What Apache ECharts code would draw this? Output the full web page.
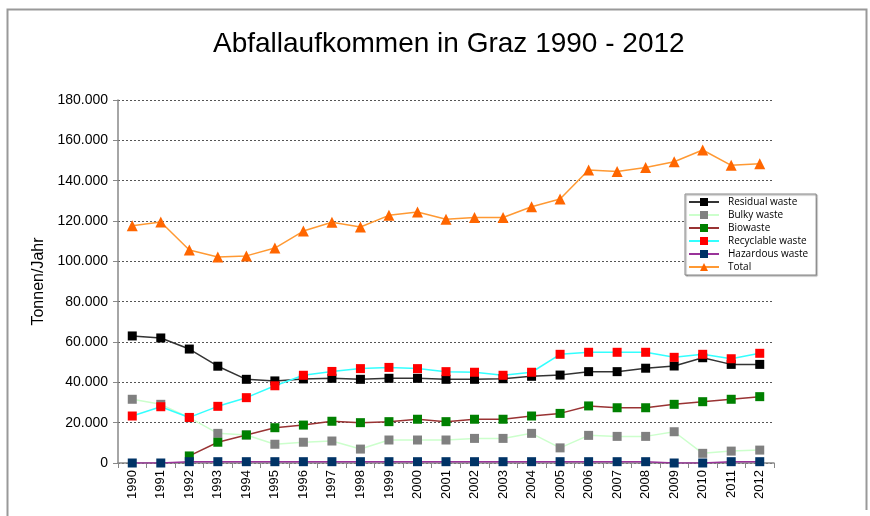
<!DOCTYPE html>
<html>
<head>
<meta charset="utf-8">
<script src="https://cdn.jsdelivr.net/npm/echarts@6/dist/echarts.min.js"></script>
<style>html,body{margin:0;padding:0;background:#fff;}#c{width:870px;height:516px;}</style>
</head>
<body>
<div id="c"></div>
<script>
const years = ['1990','1991','1992','1993','1994','1995','1996','1997','1998','1999','2000','2001','2002','2003','2004','2005','2006','2007','2008','2009','2010','2011','2012'];
const residual = [63000,62000,56500,48000,41500,40700,41700,42000,41500,42000,42000,41500,41500,41800,43000,43600,45300,45300,47000,48100,52200,48900,48900];
const bulky = [31600,29100,22500,14700,13900,9300,10300,10900,6900,11400,11400,11400,12200,12200,14700,7500,13700,13200,13200,15500,4800,5900,6400];
const biowaste = [null,null,3500,10300,13900,17500,18800,20700,20000,20500,21700,20500,21700,21700,23300,24600,28300,27400,27400,29100,30400,31600,32900];
const recyclable = [23300,27900,22600,28100,32400,38300,43500,45400,46800,47400,46800,45300,45000,43500,45000,53900,54900,54900,54900,52400,53900,51700,54400];
const hazardous = [0,0,650,650,650,650,650,650,650,650,650,650,650,650,650,650,650,650,650,0,0,650,650];
const total = [117700,119500,105600,102200,102700,106600,115000,119400,117000,122800,124500,120900,121700,121700,127100,130900,145300,144500,146500,149400,155200,147600,148400];
const yTicks = {min:0, max:180000, interval:20000};

function mk(name, data, lineColor, markColor, symbol, size){
  return {
    name, type:'line', data, symbol, symbolSize:size,
    lineStyle:{color:lineColor, width:1.5},
    itemStyle:{color:markColor, borderColor:markColor, borderWidth:0},
    emphasis:{disabled:true}, animation:false, connectNulls:false
  };
}
const chart = echarts.init(document.getElementById('c'), null, {renderer:'canvas'});
chart.setOption({
  animation:false,
  backgroundColor:'#fff',
  title:{text:'Abfallaufkommen in Graz 1990 - 2012', left:208, top:25,
    textStyle:{fontFamily:'Liberation Sans, Arial, sans-serif', fontSize:28, fontWeight:'normal', color:'#000'}},
  graphic:[
    {type:'polyline', shape:{points:[[7.5,516],[7.5,9.5],[866.5,9.5],[866.5,510]]}, style:{stroke:'#999', lineWidth:2, fill:null}, z:100}
  ],
  legend:{
    orient:'vertical', left:685, top:194, itemWidth:30, itemHeight:10, itemGap:3,
    padding:[3,8,3,3],
    borderColor:'#888', borderWidth:1, backgroundColor:'#fff',
    shadowColor:'rgba(0,0,0,0.35)', shadowOffsetX:1, shadowOffsetY:1, shadowBlur:1,
    textStyle:{fontFamily:'Open Sans, Liberation Sans, sans-serif', fontSize:10, color:'#000', padding:[0,0,0,4]},
    data:['Residual waste','Bulky waste','Biowaste','Recyclable waste','Hazardous waste','Total']
  },
  grid:{left:118, right:96, top:100, bottom:53},
  xAxis:{
    type:'category', data:years, boundaryGap:true,
    axisLine:{lineStyle:{color:'#888', width:1.5}},
    axisTick:{show:true, alignWithLabel:false, length:5, lineStyle:{color:'#888'}},
    axisLabel:{rotate:90, color:'#000', fontFamily:'Liberation Sans, Arial, sans-serif', fontSize:13, margin:7, interval:0}
  },
  yAxis:{
    type:'value', min:yTicks.min, max:yTicks.max, interval:yTicks.interval,
    name:'Tonnen/Jahr', nameLocation:'middle', nameGap:63,
    nameTextStyle:{fontFamily:'Liberation Sans, Arial, sans-serif', fontSize:16, color:'#000'},
    axisLine:{show:true, lineStyle:{color:'#888', width:1.5}},
    axisTick:{show:true, length:5, lineStyle:{color:'#888'}},
    axisLabel:{color:'#000', fontFamily:'Liberation Sans, Arial, sans-serif', fontSize:14, margin:10,
      formatter: v => v===0 ? '0' : (v/1000).toFixed(0)+'.000'},
    splitLine:{show:true, lineStyle:{color:'#555', type:[2,2], width:1}}
  },
  series:[
    mk('Residual waste', residual, '#333333', '#000000', 'rect', 9),
    mk('Bulky waste', bulky, '#ccffcc', '#808080', 'rect', 9),
    mk('Biowaste', biowaste, '#993333', '#008000', 'rect', 9),
    mk('Recyclable waste', recyclable, '#33ffff', '#ff0000', 'rect', 9),
    mk('Hazardous waste', hazardous, '#993399', '#003366', 'rect', 9),
    mk('Total', total, '#ff9933', '#ff6600', 'triangle', 11)
  ]
});
</script>
</body>
</html>
